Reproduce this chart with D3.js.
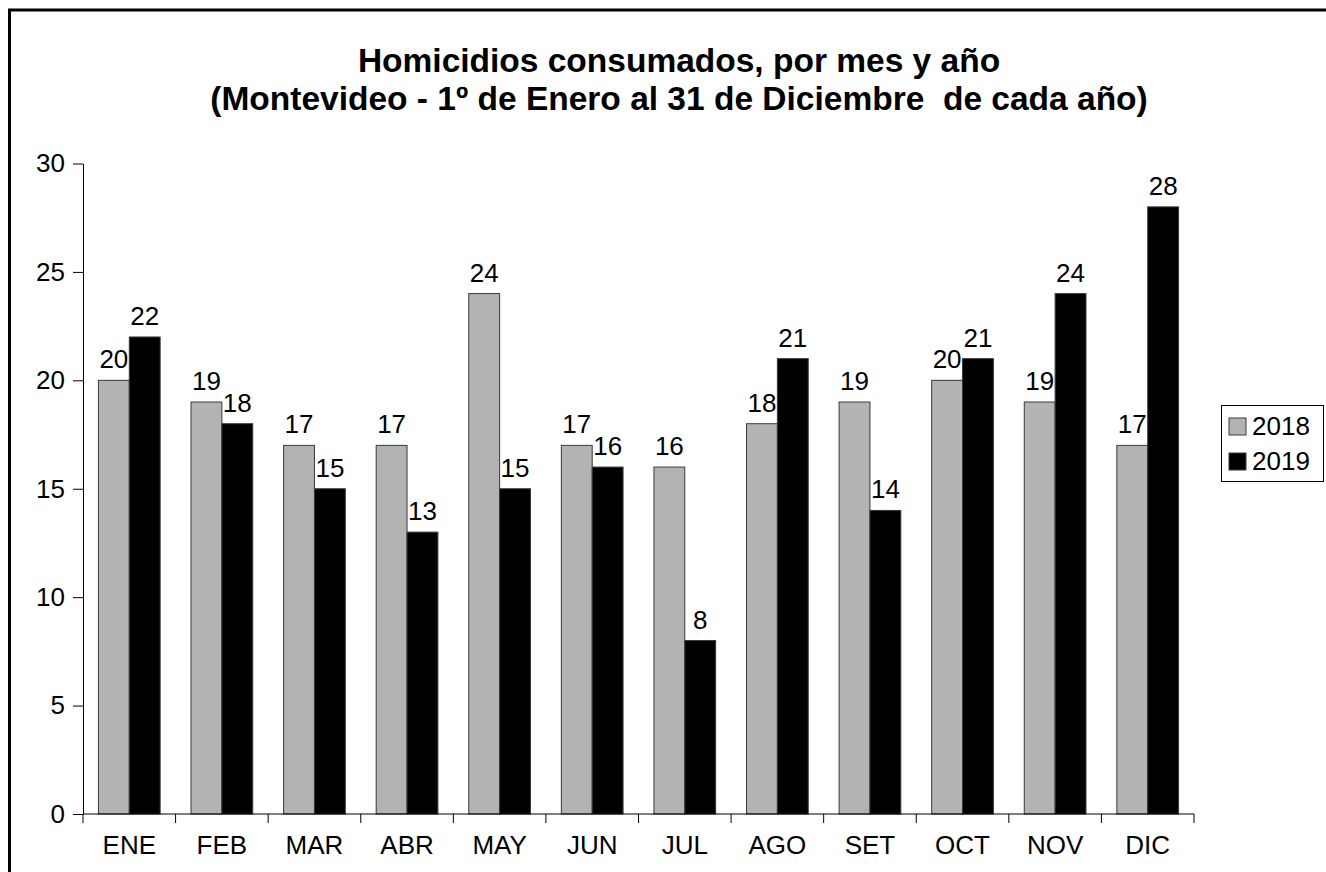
<!DOCTYPE html>
<html>
<head>
<meta charset="utf-8">
<script src="https://cdn.jsdelivr.net/npm/d3@7"></script>
<style>
  body { margin: 0; background: #fff; }
  svg { display: block; }
</style>
</head>
<body>
<svg id="main-svg" width="1326" height="872"></svg>
<script>
// data
const months = ["ENE", "FEB", "MAR", "ABR", "MAY", "JUN", "JUL", "AGO", "SET", "OCT", "NOV", "DIC"];
const years = ["2018", "2019"];
const values2018 = [20, 19, 17, 17, 24, 17, 16, 18, 19, 20, 19, 17];
const values2019 = [22, 18, 15, 13, 15, 16, 8, 21, 14, 21, 24, 28];
const yTicks = [0, 5, 10, 15, 20, 25, 30];
const titleLines = [
    "Homicidios consumados, por mes y año",
    "(Montevideo - 1º de Enero al 31 de Diciembre  de cada año)"
];

const font = "'Liberation Sans', Arial, sans-serif";
const svg = d3.select("#main-svg");

// white background and the frame (cut off at right and bottom)
svg.append("rect").attr("width", 1326).attr("height", 872).attr("fill", "#fff");
svg.append("path")
    .attr("d", "M9.5,872 V10 H1326")
    .attr("fill", "none")
    .attr("stroke", "#000")
    .attr("stroke-width", 3);

// title
svg.append("text")
    .attr("x", 679)
    .attr("font-family", font)
    .attr("font-size", "33.5px")
    .attr("font-weight", "bold")
    .attr("text-anchor", "middle")
    .attr("xml:space", "preserve")
    .style("white-space", "pre")
    .selectAll("tspan")
    .data(titleLines)
    .enter().append("tspan")
    .attr("x", 679)
    .attr("y", (d, i) => 72 + i * 38)
    .text(d => d);

// scales
const x = d3.scaleBand().domain(months).range([83, 1194]).padding(0);
const y = d3.scaleLinear().domain([0, 30]).range([814, 163.5]);
const sub = d3.scaleBand().domain(years)
    .range([x.bandwidth() / 6, x.bandwidth() * 5 / 6]).padding(0);
const color = d3.scaleOrdinal().domain(years).range(["#b3b3b3", "#000000"]);

const rows = months.map((m, i) => ({ month: m, "2018": values2018[i], "2019": values2019[i] }));

// bars
const groups = svg.append("g").selectAll("g")
    .data(rows)
    .enter().append("g")
    .attr("transform", d => `translate(${x(d.month)},0)`);

groups.selectAll("rect")
    .data(d => years.map(yr => ({ year: yr, value: d[yr] })))
    .enter().append("rect")
    .attr("x", d => sub(d.year))
    .attr("y", d => y(d.value))
    .attr("width", sub.bandwidth())
    .attr("height", d => y(0) - y(d.value))
    .attr("fill", d => color(d.year))
    .attr("stroke", "#3a3a3a")
    .attr("stroke-width", 1);

// value labels
groups.selectAll("text")
    .data(d => years.map(yr => ({ year: yr, value: d[yr] })))
    .enter().append("text")
    .attr("x", d => sub(d.year) + sub.bandwidth() / 2)
    .attr("y", d => y(d.value) - 12)
    .attr("text-anchor", "middle")
    .attr("font-family", font)
    .attr("font-size", "26px")
    .text(d => d.value);

// y axis
const yAxis = svg.append("g")
    .attr("transform", "translate(83,0)")
    .call(d3.axisLeft(y).tickValues(yTicks).tickSize(10).tickPadding(8).tickSizeOuter(0));
yAxis.selectAll("text").attr("font-family", font).attr("font-size", "26px").attr("fill", "#000");
yAxis.selectAll("line, path").attr("stroke", "#000");

// x axis with ticks at band edges
const xAxis = svg.append("g").attr("transform", `translate(0,${y(0)})`);
xAxis.append("line")
    .attr("x1", x.range()[0]).attr("x2", x.range()[1])
    .attr("stroke", "#000");
xAxis.selectAll(".edge")
    .data(months.concat(["end"]))
    .enter().append("line")
    .attr("class", "edge")
    .attr("x1", (d, i) => i < months.length ? x(d) : x.range()[1])
    .attr("x2", (d, i) => i < months.length ? x(d) : x.range()[1])
    .attr("y1", 0).attr("y2", 9)
    .attr("stroke", "#000");
xAxis.selectAll(".lbl")
    .data(months)
    .enter().append("text")
    .attr("class", "lbl")
    .attr("x", d => x(d) + x.bandwidth() / 2)
    .attr("y", 40)
    .attr("text-anchor", "middle")
    .attr("font-family", font)
    .attr("font-size", "26px")
    .text(d => d);

// legend
const legend = svg.append("g").attr("transform", "translate(1221,405)");
legend.append("rect")
    .attr("x", 0.5).attr("y", 0.5)
    .attr("width", 102).attr("height", 76)
    .attr("fill", "#fff")
    .attr("stroke", "#000");
const items = legend.selectAll(".item")
    .data(years)
    .enter().append("g")
    .attr("class", "item")
    .attr("transform", (d, i) => `translate(8,${13 + i * 35})`);
items.append("rect")
    .attr("width", 17).attr("height", 17)
    .attr("fill", color)
    .attr("stroke", "#3a3a3a");
items.append("text")
    .attr("x", 23)
    .attr("y", 17)
    .attr("font-family", font)
    .attr("font-size", "26px")
    .text(d => d);
</script>
</body>
</html>
